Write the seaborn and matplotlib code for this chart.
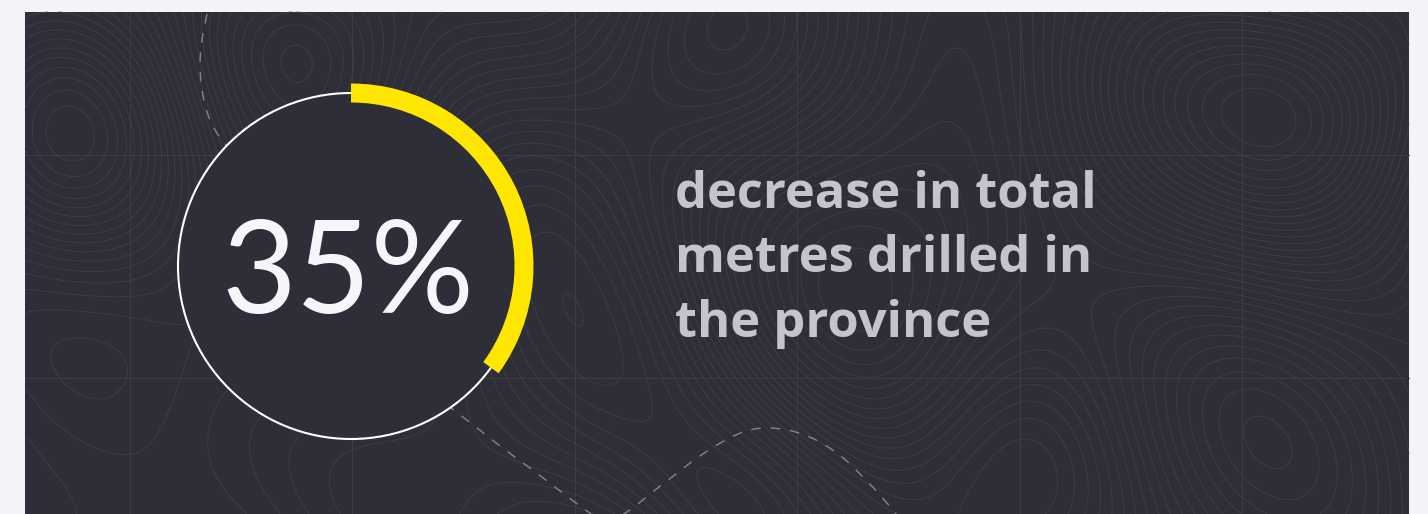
import numpy as np
import pandas as pd
import matplotlib
matplotlib.use("Agg")
import matplotlib.pyplot as plt
from matplotlib.patches import Wedge, Circle, Rectangle
import seaborn as sns

# ---- data ----
pct_value = 35
pct_label = "35%"
caption_lines = ["decrease in total", "metres drilled in", "the province"]

# decorative dashed paths (pixel coords)
dash1_x = [207, 202, 200, 202, 207, 215, 226, 240]
dash1_y = [14, 40, 65, 90, 112, 130, 145, 158]
dash2_x = [446, 472, 500, 530, 560, 587, 605, 627, 650, 672, 697, 722, 746, 767, 792, 818, 842, 862, 880, 895, 905]
dash2_y = [404, 424, 446, 468, 491, 511, 522, 512, 494, 477, 458, 442, 431, 428, 431, 441, 457, 476, 495, 513, 528]

W, H = 1428, 514
PANEL = "#2e2e38"
OUTER = "#f4f4f8"

sns.set_theme(style="white")
plt.rcParams['font.family'] = ['Lato', 'DejaVu Sans']

fig = plt.figure(figsize=(W / 100, H / 100), dpi=100, facecolor=OUTER)
ax = fig.add_axes([0, 0, 1, 1])
ax.set_xlim(0, W)
ax.set_ylim(H, 0)
ax.axis("off")
ax.set_facecolor(OUTER)

px0, py0, px1, py1 = 25, 12, 1409, 514
ax.add_patch(Rectangle((px0, py0), px1 - px0, py1 - py0, facecolor=PANEL, edgecolor="none", zorder=0))

# topographic texture (deterministic smooth field)
gx = np.linspace(px0, px1, 500)
gy = np.linspace(py0, py1, 200)
X, Y = np.meshgrid(gx, gy)
bumps = [(62, 142, 90, 1.0), (1132, 112, 110, 1.0), (1322, 112, 90, 0.9),
         (597, 393, 120, 0.9), (750, 520, 90, 1.0), (300, 40, 80, -0.8),
         (900, 250, 140, -0.7), (480, 200, 100, 0.6), (1200, 420, 120, -0.8),
         (150, 470, 110, 0.7), (1000, 480, 90, 0.6), (700, 60, 90, 0.7)]
Z = np.zeros_like(X)
for bx, by, s, a in bumps:
    Z += a * np.exp(-((X - bx) ** 2 + (Y - by) ** 2) / (2 * s ** 2))
Z += 0.25 * np.sin(X / 97.0 + Y / 140.0) + 0.2 * np.cos(X / 61.0 - Y / 83.0)
ax.contour(X, Y, Z, levels=40, colors="#3f3f49", linewidths=0.6,
           negative_linestyles="solid", zorder=1)

# faint grid
for gxv in [130, 352, 575, 797, 1020, 1242]:
    ax.plot([gxv, gxv], [py0, py1], color="#3d3d47", lw=0.8, zorder=2)
for gyv in [155, 378]:
    ax.plot([px0, px1], [gyv, gyv], color="#3d3d47", lw=0.8, zorder=2)

# dashed decorative curves
def catmull(xs, ys, n=20):
    P = np.column_stack([xs, ys]).astype(float)
    P = np.vstack([P[0], P, P[-1]])
    out = []
    for i in range(1, len(P) - 2):
        p0, p1, p2, p3 = P[i - 1], P[i], P[i + 1], P[i + 2]
        for t in np.linspace(0, 1, n, endpoint=False):
            t2, t3 = t * t, t * t * t
            out.append(0.5 * ((2 * p1) + (-p0 + p2) * t + (2 * p0 - 5 * p1 + 4 * p2 - p3) * t2 + (-p0 + 3 * p1 - 3 * p2 + p3) * t3))
    out.append(P[-2])
    out = np.array(out)
    return out[:, 0], out[:, 1]

for xs, ys in [(dash1_x, dash1_y), (dash2_x, dash2_y)]:
    sx, sy = catmull(xs, ys)
    df = pd.DataFrame({"x": sx, "y": sy})
    n_before = len(ax.lines)
    sns.lineplot(data=df, x="x", y="y", sort=False, estimator=None, ax=ax,
                 color="#85858f", linewidth=1.0, zorder=3)
    for ln in ax.lines[n_before:]:
        ln.set_linestyle((0, (7, 7)))
ax.set_xlim(0, W)
ax.set_ylim(H, 0)
ax.axis("off")

# gauge
cx, cy, r = 351, 266, 173
ax.add_patch(Circle((cx, cy), r, facecolor=PANEL, edgecolor="white", lw=1.5, zorder=4))
theta1 = -90
theta2 = -90 + 360 * pct_value / 100
ax.add_patch(Wedge((cx, cy), r + 9.5, theta1, theta2, width=19, facecolor="#ffe600", edgecolor="none", zorder=5))

renderer = fig.canvas.get_renderer()

def fit_width(t, target):
    bb = t.get_window_extent(renderer=renderer)
    t.set_fontsize(t.get_fontsize() * target / bb.width)

big = ax.text(348, 313, pct_label, ha="center", va="baseline", fontsize=90, color="#f6f6fa",
              fontweight="normal", zorder=6)
fit_width(big, 253)

caps = []
for i, line in enumerate(caption_lines):
    t = ax.text(675, 208 + i * 64.5, line, ha="left", va="baseline", fontsize=36,
                color="#c4c4cd", fontweight="bold", zorder=6,
                family=["Open Sans", "DejaVu Sans"])
    caps.append(t)
bb = caps[0].get_window_extent(renderer=renderer)
scale = 422 / bb.width
for t in caps:
    t.set_fontsize(t.get_fontsize() * scale)

fig.savefig("out.png", dpi=100, facecolor=OUTER)
